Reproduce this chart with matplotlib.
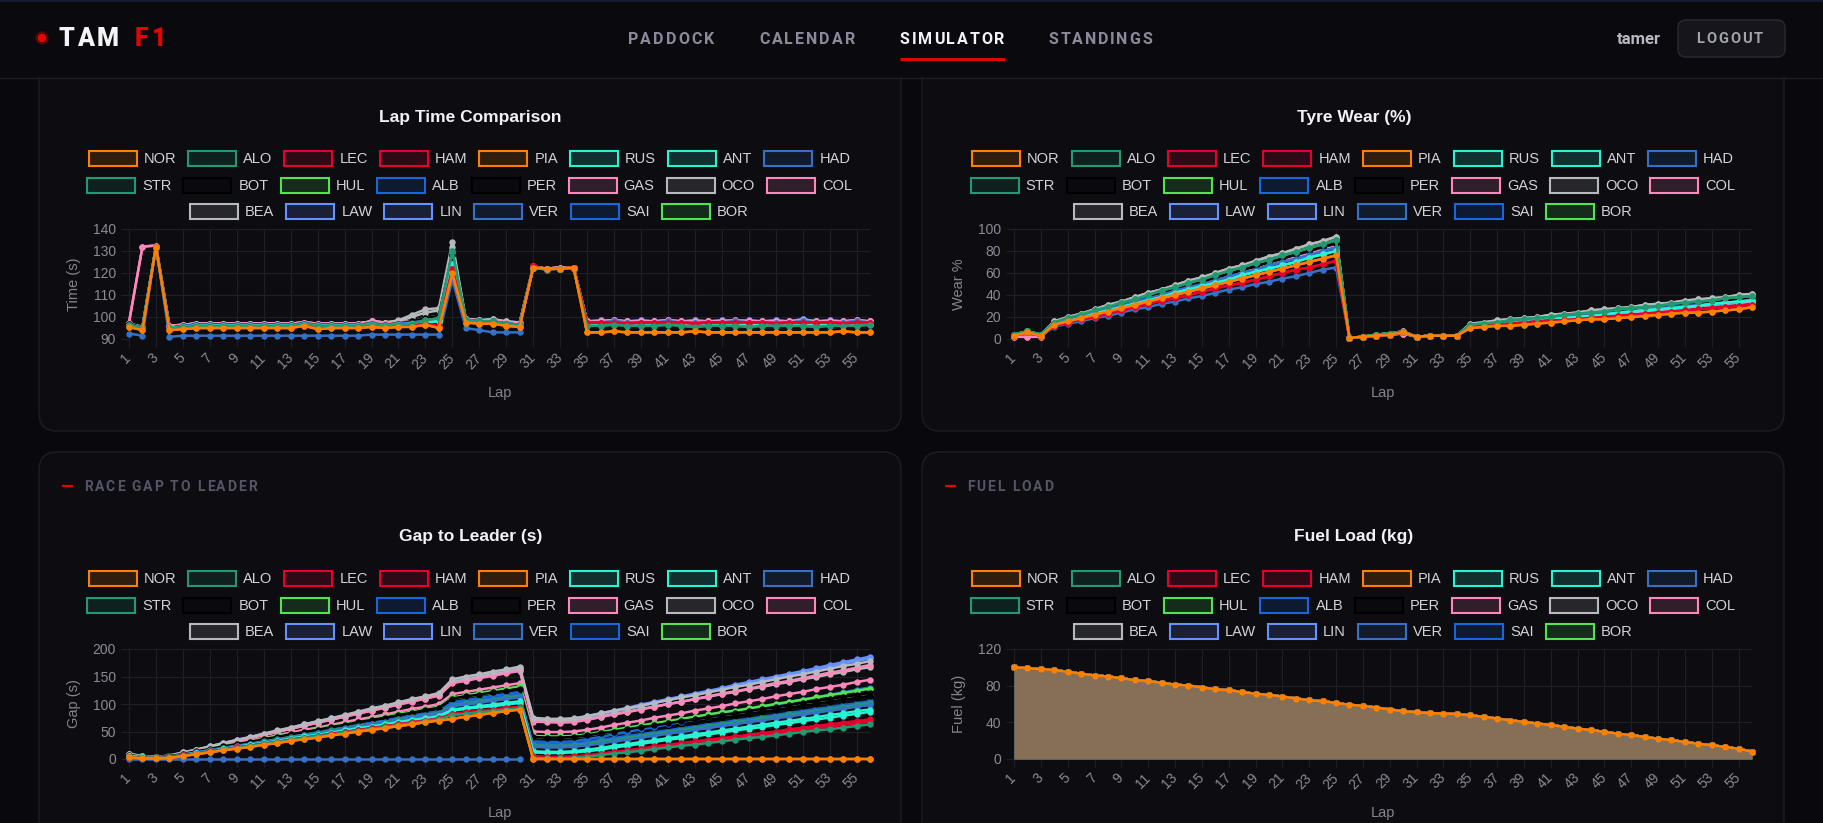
import matplotlib
matplotlib.use("Agg")
import numpy as np
import matplotlib.pyplot as plt
from matplotlib.patches import FancyBboxPatch, Rectangle
from matplotlib.colors import to_rgb

nan = float("nan")

# ---------------------------------------------------------------
# data
# ---------------------------------------------------------------
LAPS = list(range(1, 57))
TICK_LAPS = list(range(1, 57, 2))

DRIVERS = ["NOR", "ALO", "LEC", "HAM", "PIA", "RUS", "ANT", "HAD",
           "STR", "BOT", "HUL", "ALB", "PER", "GAS", "OCO", "COL",
           "BEA", "LAW", "LIN", "VER", "SAI", "BOR"]
DRIVER_COLORS = ["#FF8000", "#229971", "#E8002D", "#E8002D", "#FF8000", "#27F4D2", "#27F4D2", "#3671C6",
                 "#229971", "#000000", "#52E252", "#1868DB", "#000000", "#FF87BC", "#B6BABD", "#FF87BC",
                 "#B6BABD", "#6692FF", "#6692FF", "#3671C6", "#1868DB", "#52E252"]
LEGEND_ROWS = [DRIVERS[0:8], DRIVERS[8:16], DRIVERS[16:22]]

# lap times (s)
LT_ORANGE = [95.5, 94, 132,
             94, 94.5, 95, 95, 95, 95, 95, 95, 95, 95, 96, 94.5, 95, 95, 95, 95.5, 95,
             95.5, 95.5, 96.5, 95,
             120,
             97.5, 97, 97, 96, 95.5,
             122.5, 122, 122, 122.5,
             93, 93, 93.5, 93, 93, 93, 93, 93, 93.5, 93, 93, 93, 93, 93, 93, 93, 93, 93, 93, 93.5, 93, 93]
LT_VER = [92.5, 91.5, 132,
          91, 91.5, 91.5, 91.5, 91.5, 91.5, 91.5, 91.5, 91.5, 91.5, 91.5, 91.5, 91.5, 91.5, 91.5, 92, 92,
          92, 92, 92, 92,
          117,
          95, 94, 93, 93, 93,
          nan, nan, nan, nan, nan, nan, nan, nan, nan, nan, nan, nan, nan,
          nan, nan, nan, nan, nan, nan, nan, nan, nan, nan, nan, nan, nan]
LT_PINK = [97.5, 132, 132.5,
           96, 96.5, 97, 97, 97, 97, 97, 97, 97, 97, 97.5, 97, 97, 97, 97, 98, 97.5,
           97.5, 98, 98.5, 99,
           127,
           99, 98.5, 98.5, 97.5, 97,
           123, 122, 122.5, 122.5,
           98, 98, 98.5, 98, 98, 98, 98.5, 98, 98, 98, 98, 98.5, 98, 98, 98, 98, 98.5, 98, 98, 98, 98.5, 98]
LT_OCO = [97, 95.5, 132,
          95.5, 96.5, 97, 97, 97, 97, 97, 97, 97, 97, 97.5, 97, 97, 97, 97, 98, 97.5,
          98.5, 101, 103.5, 104,
          134,
          99, 98.5, 99, 98, 97.5,
          122.5, 122, 122.5, 122.5,
          97.5, 98, 98, 97.5, 98, 97.5, 98, 97.5, 97.5, 98, 97.5, 98, 97.5, 97.5, 98, 97.5, 98, 97.5, 98, 97.5, 98, 97.5]
LT_BEA = [97, 95.5, 132,
          95.5, 96.5, 97, 97, 97, 97, 97, 97, 97, 97, 97.5, 97, 97, 97, 97, 98, 97.5,
          98, 100, 102, 103,
          132,
          99, 98.5, 99, 98, 97.5,
          122.5, 122, 122.5, 122.5,
          98, 97.5, 98, 98, 97.5, 98, 97.5, 98, 98, 97.5, 98, 97.5, 98, 98, 97.5, 98, 97.5, 98, 97.5, 98, 97.5, 98]
LT_LAV = [96.5, 95, 132,
          95.5, 96.5, 97, 97, 97, 97, 97, 97, 97, 97, 97.5, 97, 97, 97, 97, 98, 97.5,
          97.5, 98, 99, 100,
          126,
          99, 98.5, 98.5, 97.5, 97,
          122.5, 122, 122, 122.5,
          98, 98.5, 98.5, 98, 98.5, 98, 98.5, 98, 98.5, 98, 98.5, 98, 98.5, 98, 98.5, 98, 99, 98, 98.5, 98, 98.5, 98]
LT_GREEN = [96.5, 95, 132,
            95, 95.5, 96, 96, 96, 96, 96, 96, 96, 96, 96.5, 96, 96, 96, 96, 96.5, 96,
            96.5, 97, 98.5, 99.5,
            130,
            98.5, 98, 98, 97, 96.5,
            122.5, 121.5, 122, 122,
            96, 96, 96.5, 96, 96, 96, 96.5, 96, 95.5, 96, 96, 96, 95.5, 96, 96, 96, 96, 95.5, 96, 96, 96, 96.5]
LT_MID = [97, 95, 132,
          95, 96, 96.5, 96.5, 96.5, 96.5, 96.5, 96.5, 96.5, 96.5, 97, 96.5, 96.5, 96.5, 96.5, 97, 96.5,
          97, 98, 99.5, 100.5,
          128,
          98.5, 98, 98, 97, 96.5,
          122.5, 122, 122, 122.5,
          97, 97, 97.5, 97, 97, 97, 97.5, 97, 97, 97, 97, 97.5, 97, 97, 97, 97, 97.5, 97, 97, 97, 97.5, 97]
LT_TEAL = [96, 95, 132,
           95, 95.5, 96, 96, 96, 96, 96, 96, 96, 96, 96.5, 96, 96, 96, 96, 96.5, 96,
           96.5, 97, 97.5, 98,
           124,
           98, 97.5, 97.5, 96.5, 96,
           122.5, 122, 122, 122.5,
           97, 97, 97, 96.5, 97, 97, 97, 96.5, 97, 97, 97, 97, 96.5, 97, 97, 97, 97, 96.5, 97, 97, 97, 97]
LT_RED = [96, 94.5, 132,
          94.5, 95, 95.5, 95.5, 95.5, 95.5, 95.5, 95.5, 95.5, 95.5, 96, 95.5, 95.5, 95.5, 95.5, 96, 95.5,
          96, 96, 97, 96,
          122,
          98, 97.5, 97.5, 96.5, 96,
          123, 121.5, 122, 122.5,
          97.5, 97.5, 97.5, 97, 97.5, 97.5, 97.5, 97.5, 97, 97.5, 97.5, 97.5, 97.5, 97.5, 97, 97.5, 97.5, 97.5, 97.5, 97, 97.5, 97.5]
LT_BLUE = [96.5, 95, 132,
           95, 96, 96.5, 96.5, 96.5, 96.5, 96.5, 96.5, 96.5, 96.5, 97, 96.5, 96.5, 96.5, 96.5, 97, 96.5,
           97, 97.5, 98.5, 99,
           123,
           98.5, 98, 98, 97, 96.5,
           122.5, 122, 122, 122.5,
           97.5, 97.5, 98, 97.5, 97.5, 97.5, 98, 97.5, 97.5, 97.5, 97.5, 98, 97.5, 97.5, 97.5, 97.5, 98, 97.5, 97.5, 97.5, 98, 97.5]

LAP_TIME = {"NOR": LT_ORANGE, "ALO": LT_GREEN, "LEC": LT_RED, "HAM": LT_RED, "PIA": LT_ORANGE,
            "RUS": LT_TEAL, "ANT": LT_TEAL, "HAD": LT_BLUE, "STR": LT_GREEN, "BOT": LT_MID,
            "HUL": LT_MID, "ALB": LT_BLUE, "PER": LT_MID, "GAS": LT_PINK, "OCO": LT_OCO,
            "COL": LT_PINK, "BEA": LT_BEA, "LAW": LT_LAV, "LIN": LT_LAV, "VER": LT_VER,
            "SAI": LT_BLUE, "BOR": LT_MID}

# tyre wear (%)
W_GREY = [4, 7, 4,
          16, 20, 23, 27, 31, 34, 38, 42, 45, 49, 53, 56, 60, 64, 67, 71, 75, 78, 82, 86, 89, 93,
          1, 2, 4, 5, 7, 2, 3, 3, 3,
          14, 15, 17, 18, 19, 20, 22, 23, 24, 26, 27, 28, 29, 31, 32, 33, 35, 36, 37, 38, 40, 41]
W_GREEN = [4, 7, 4,
           15, 19, 22, 26, 29, 33, 36, 40, 44, 47, 51, 54, 58, 62, 65, 69, 72, 76, 79, 83, 86, 90,
           1, 2, 4, 5, 6, 2, 3, 3, 3,
           13, 14, 15, 17, 18, 19, 20, 22, 23, 24, 25, 27, 28, 29, 30, 32, 33, 34, 35, 37, 38, 39]
W_BLACK = [4, 6, 3,
           14, 17, 21, 24, 28, 31, 35, 38, 42, 45, 49, 52, 56, 59, 63, 66, 70, 73, 77, 80, 84, 87,
           1, 2, 3, 5, 6, 2, 3, 3, 3,
           12, 13, 14, 16, 17, 18, 19, 20, 22, 23, 24, 25, 26, 27, 29, 30, 31, 32, 33, 35, 36, 37]
W_BLUE = [3, 6, 3,
          14, 17, 21, 24, 27, 30, 34, 37, 40, 44, 47, 50, 53, 57, 60, 63, 67, 70, 73, 76, 80, 83,
          1, 2, 3, 4, 6, 2, 3, 3, 3,
          12, 13, 14, 15, 16, 18, 19, 20, 21, 22, 23, 24, 25, 27, 28, 29, 30, 31, 32, 33, 34, 36]
W_TEAL = [3, 6, 3,
          13, 16, 19, 23, 26, 29, 32, 35, 38, 42, 45, 48, 51, 54, 58, 61, 64, 67, 70, 74, 77, 80,
          1, 2, 3, 4, 6, 2, 3, 3, 3,
          11, 12, 13, 14, 16, 17, 18, 19, 20, 21, 22, 24, 25, 26, 27, 28, 29, 30, 32, 33, 34, 35]
W_PINK = [2, 2, 2,
          13, 16, 20, 23, 27, 30, 33, 37, 40, 43, 47, 50, 54, 57, 60, 64, 67, 71, 74, 77, 81, 84,
          1, 2, 3, 4, 5, 2, 3, 3, 3,
          11, 12, 13, 14, 15, 16, 17, 19, 20, 21, 22, 23, 24, 25, 26, 27, 28, 30, 31, 32, 33, 34]
W_ORANGE = [3, 6, 3,
            13, 16, 19, 22, 25, 28, 31, 34, 37, 40, 43, 46, 49, 52, 55, 58, 61, 64, 67, 70, 73, 76,
            1, 2, 3, 4, 6, 2, 3, 3, 3,
            10, 11, 12, 12, 13, 14, 15, 16, 17, 18, 18, 19, 20, 21, 22, 23, 24, 24, 25, 26, 27, 29]
W_RED = [3, 6, 3,
         12, 15, 18, 20, 23, 26, 29, 32, 35, 37, 40, 43, 46, 49, 51, 54, 57, 60, 63, 65, 68, 71,
         1, 2, 3, 4, 6, 2, 3, 3, 3,
         11, 12, 13, 14, 15, 16, 17, 17, 18, 19, 20, 21, 22, 23, 24, 25, 26, 27, 28, 29, 30, 31]
W_VER = [3, 6, 3,
         11, 14, 16, 19, 21, 24, 27, 29, 32, 34, 37, 39, 42, 45, 47, 50, 52, 55, 57, 60, 63, 65,
         1, 2, 3, 4, 5, nan, nan, nan, nan,
         nan, nan, nan, nan, nan, nan, nan, nan, nan, nan, nan,
         nan, nan, nan, nan, nan, nan, nan, nan, nan, nan, nan]

TYRE_WEAR = {"NOR": W_ORANGE, "ALO": W_GREEN, "LEC": W_RED, "HAM": W_RED, "PIA": W_ORANGE,
             "RUS": W_TEAL, "ANT": W_TEAL, "HAD": W_BLUE, "STR": W_GREEN, "BOT": W_BLACK,
             "HUL": W_GREEN, "ALB": W_BLUE, "PER": W_BLACK, "GAS": W_PINK, "OCO": W_GREY,
             "COL": W_PINK, "BEA": W_GREY, "LAW": W_BLACK, "LIN": W_BLACK, "VER": W_VER,
             "SAI": W_BLUE, "BOR": W_GREEN}

# gap to leader (s)
G_NOR = [3, 1, 1,
         2, 5, 9, 12, 16, 19, 22, 26, 29, 33, 36, 39, 43, 46, 50, 53, 56, 60, 63, 67, 70,
         73, 77, 80, 84, 87, 90,
         0, 0, 0, 0,
         0, 0, 0, 0, 0, 0, 0, 0, 0, 0, 0, 0, 0, 0, 0, 0, 0, 0, 0, 0, 0, 0]
G_VER = [0, 0, 0, 0, 0, 0, 0, 0, 0, 0, 0, 0, 0, 0, 0,
         0, 0, 0, 0, 0, 0, 0, 0, 0, 0, 0, 0, 0, 0, 0,
         nan, nan, nan, nan, nan, nan, nan, nan, nan, nan, nan, nan, nan,
         nan, nan, nan, nan, nan, nan, nan, nan, nan, nan, nan, nan, nan]
G_OCO = [10, 5, 4,
         6, 12, 17, 23, 29, 35, 40, 46, 52, 57, 63, 69, 74, 80, 86, 92, 97, 103, 109, 114, 120,
         145, 150, 154, 159, 163, 168,
         75, 73, 73, 74,
         78, 83, 88, 92, 97, 102, 107, 112, 116, 121, 126, 131, 135, 140, 145, 150, 154, 159, 164, 169, 173, 178]
G_BEA = [9, 4, 3,
         5, 11, 16, 22, 27, 33, 38, 44, 49, 55, 61, 66, 72, 77, 83, 88, 94, 99, 105, 110, 116,
         140, 144, 149, 154, 158, 163,
         71, 69, 69, 70,
         73, 77, 82, 86, 91, 95, 100, 104, 109, 113, 118, 122, 127, 131, 136, 140, 145, 149, 154, 158, 163, 167]
G_LAW = [9, 5, 4,
         6, 12, 17, 23, 29, 34, 40, 46, 51, 57, 63, 68, 74, 79, 85, 91, 96, 102, 108, 113, 119,
         142, 147, 151, 156, 160, 165,
         74, 72, 72, 73,
         78, 83, 88, 93, 99, 104, 109, 114, 119, 124, 129, 135, 140, 145, 150, 155, 160, 165, 171, 176, 181, 186]
G_LIN = [8, 5, 4,
         5, 11, 16, 22, 27, 33, 39, 44, 50, 55, 61, 67, 72, 78, 83, 89, 95, 100, 106, 111, 117,
         140, 145, 149, 154, 158, 162,
         71, 70, 70, 71,
         76, 81, 86, 91, 96, 102, 107, 112, 117, 122, 127, 132, 137, 142, 147, 153, 158, 163, 168, 173, 178, 183]
G_COL = [8, 4, 3,
         5, 11, 16, 22, 27, 33, 38, 44, 49, 55, 60, 66, 71, 77, 82, 88, 93, 99, 104, 110, 115,
         138, 142, 147, 151, 156, 160,
         68, 67, 66, 67,
         71, 76, 81, 85, 90, 95, 100, 104, 109, 114, 119, 123, 128, 133, 138, 142, 147, 152, 157, 161, 166, 171]
G_GAS = [7, 4, 3,
         5, 10, 15, 19, 24, 29, 34, 38, 43, 48, 53, 57, 62, 67, 72, 76, 81, 86, 91, 95, 100,
         118, 122, 126, 130, 134, 138,
         50, 49, 49, 50,
         53, 57, 62, 66, 70, 75, 79, 83, 88, 92, 96, 101, 105, 109, 114, 118, 122, 127, 131, 135, 140, 144]
G_HUL = [7, 4, 3,
         5, 10, 14, 19, 23, 28, 32, 37, 41, 46, 50, 55, 59, 64, 68, 73, 77, 82, 86, 91, 95,
         112, 116, 120, 124, 128, 132,
         42, 41, 41, 42,
         45, 49, 53, 57, 61, 65, 69, 73, 77, 81, 85, 88, 92, 96, 100, 104, 108, 112, 116, 120, 124, 128]
G_BOR = [6, 4, 3,
         4, 8, 13, 17, 21, 26, 30, 34, 38, 43, 47, 51, 56, 60, 64, 69, 73, 77, 81, 86, 90,
         106, 110, 114, 117, 121, 125,
         36, 35, 35, 36,
         39, 43, 47, 50, 54, 58, 62, 65, 69, 73, 77, 80, 84, 88, 92, 95, 99, 103, 107, 110, 114, 118]
G_BOT = [7, 4, 3,
         5, 9, 14, 18, 23, 27, 31, 36, 40, 45, 49, 53, 58, 62, 67, 71, 75, 80, 84, 89, 93,
         110, 114, 117, 121, 124, 128,
         40, 39, 39, 40,
         43, 47, 50, 54, 58, 61, 65, 69, 72, 76, 80, 83, 87, 91, 94, 98, 102, 105, 109, 113, 116, 120]
G_PER = [6, 4, 3,
         4, 8, 13, 17, 21, 25, 30, 34, 38, 42, 47, 51, 55, 59, 64, 68, 72, 76, 81, 85, 89,
         105, 109, 112, 116, 120, 124,
         35, 34, 34, 35,
         38, 42, 45, 49, 53, 56, 60, 64, 67, 71, 75, 78, 82, 86, 89, 93, 97, 100, 104, 108, 111, 115]
G_ALB = [6, 4, 3,
         4, 8, 12, 16, 21, 25, 29, 33, 37, 41, 46, 50, 54, 58, 62, 66, 70, 75, 79, 83, 87,
         103, 107, 111, 115, 118, 122,
         32, 31, 31, 32,
         36, 40, 45, 49, 54, 58, 63, 67, 72, 76, 81, 85, 90, 94, 99, 103, 108, 112, 117, 121, 126, 130]
G_SAI = [6, 3, 3,
         4, 8, 12, 16, 20, 24, 28, 32, 36, 40, 45, 49, 53, 57, 61, 65, 69, 73, 77, 81, 85,
         100, 104, 107, 111, 114, 118,
         28, 27, 27, 28,
         31, 35, 38, 42, 45, 49, 52, 56, 59, 63, 66, 70, 73, 77, 80, 84, 87, 91, 94, 98, 101, 105]
G_STR = [6, 3, 3,
         4, 8, 12, 16, 20, 24, 28, 32, 36, 40, 44, 48, 52, 56, 60, 64, 68, 72, 76, 80, 84,
         98, 101, 105, 108, 112, 115,
         25, 24, 24, 25,
         28, 32, 35, 39, 42, 46, 49, 53, 56, 60, 63, 67, 70, 74, 77, 81, 84, 88, 91, 95, 98, 102]
G_HAD = [5, 3, 2,
         4, 8, 12, 16, 20, 24, 27, 31, 35, 39, 43, 47, 51, 55, 59, 63, 66, 70, 74, 78, 82,
         96, 99, 102, 106, 109, 112,
         22, 21, 21, 22,
         25, 28, 32, 35, 39, 42, 46, 49, 53, 56, 60, 63, 67, 70, 74, 77, 81, 84, 88, 91, 95, 98]
G_RUS = [5, 3, 2,
         3, 7, 11, 14, 18, 22, 26, 29, 33, 37, 41, 44, 48, 52, 56, 59, 63, 67, 71, 74, 78,
         90, 93, 96, 99, 102, 105,
         14, 13, 13, 14,
         17, 20, 24, 27, 31, 34, 38, 41, 45, 48, 52, 55, 59, 62, 66, 69, 73, 76, 80, 83, 87, 90]
G_ANT = [5, 3, 2,
         3, 7, 10, 14, 18, 21, 25, 29, 32, 36, 40, 43, 47, 50, 54, 58, 61, 65, 69, 72, 76,
         88, 91, 94, 96, 99, 102,
         12, 11, 11, 12,
         14, 17, 21, 24, 28, 31, 35, 38, 41, 45, 48, 52, 55, 58, 62, 65, 69, 72, 75, 79, 82, 86]
G_LEC = [4, 2, 2,
         3, 7, 10, 14, 17, 21, 24, 28, 31, 35, 39, 42, 46, 49, 53, 56, 60, 63, 67, 70, 74,
         82, 85, 88, 90, 93, 95,
         5, 4, 4, 5,
         7, 10, 13, 16, 19, 23, 26, 29, 32, 35, 38, 41, 44, 47, 50, 54, 57, 60, 63, 66, 69, 72]
G_HAM = [4, 2, 2,
         3, 7, 10, 14, 17, 21, 24, 28, 31, 35, 38, 42, 45, 49, 52, 56, 59, 63, 66, 70, 73,
         81, 83, 86, 88, 91, 93,
         4, 3, 3, 4,
         6, 9, 12, 15, 18, 21, 24, 27, 30, 33, 35, 38, 41, 44, 47, 50, 53, 56, 59, 62, 65, 68]
G_ALO = [4, 2, 2,
         3, 6, 10, 13, 17, 20, 24, 27, 31, 34, 38, 41, 44, 48, 51, 55, 58, 62, 65, 69, 72,
         80, 82, 85, 87, 90, 92,
         2, 1, 1, 2,
         4, 7, 10, 12, 15, 18, 21, 24, 26, 29, 32, 35, 38, 40, 43, 46, 49, 52, 54, 57, 60, 63]

GAP = {"NOR": G_NOR, "ALO": G_ALO, "LEC": G_LEC, "HAM": G_HAM, "PIA": G_NOR,
       "RUS": G_RUS, "ANT": G_ANT, "HAD": G_HAD, "STR": G_STR, "BOT": G_BOT,
       "HUL": G_HUL, "ALB": G_ALB, "PER": G_PER, "GAS": G_GAS, "OCO": G_OCO,
       "COL": G_COL, "BEA": G_BEA, "LAW": G_LAW, "LIN": G_LIN, "VER": G_VER,
       "SAI": G_SAI, "BOR": G_BOR}

# fuel load (kg) - every car carries the same curve
FUEL = [100, 99, 98, 97, 95, 93, 91, 90, 88, 86, 85, 83, 81, 80, 78,
        76, 75, 73, 71, 70, 68, 66, 64, 63, 61, 59, 58, 56, 54, 52,
        51, 50, 49.5, 49,
        47.5, 46, 44, 42, 40.5, 38.5, 37, 35, 33, 31.5, 29.5, 27.5, 26, 24, 22, 20.5, 18.5, 16.5, 15, 13, 11, 8]
FUEL_LOAD = {d: FUEL for d in DRIVERS}

COLORS = dict(zip(DRIVERS, DRIVER_COLORS))

# ---------------------------------------------------------------
# page / layout (pixel coordinates, origin top-left)
# ---------------------------------------------------------------
W, H = 1824, 823
PAGE = "#09090d"
CARD = "#0c0c11"
CARD_EDGE = "#1d1d25"
GRID = "#1f1f28"
TICK = "#8b8b95"
RED = "#e10600"
CHART_FONT = "Liberation Sans"
UI_FONT = "Roboto"

fig = plt.figure(figsize=(W / 100, H / 100), dpi=100, facecolor=PAGE)
bg = fig.add_axes([0, 0, 1, 1])
bg.set_xlim(0, W)
bg.set_ylim(H, 0)
bg.axis("off")
renderer = fig.canvas.get_renderer()


def text_width(s, **kw):
    t = bg.text(0, 0, s, **kw)
    w = t.get_window_extent(renderer).width
    t.remove()
    return w


def spaced_text(x, y, s, width, **kw):
    # letter-spaced caps, stretched to the measured width
    space = text_width("i i", **kw) - text_width("ii", **kw)
    ws = [space if ch == " " else text_width(ch, **kw) for ch in s]
    gap = (width - sum(ws)) / (len(s) - 1)
    for ch, w in zip(s, ws):
        if ch != " ":
            bg.text(x, y, ch, ha="left", va="center", **kw)
        x += w + gap


def blend(c, a):
    c, b = np.array(to_rgb(c)), np.array(to_rgb(CARD))
    return tuple(b + (c - b) * a)


def card(l, t, r, b):
    bg.add_patch(FancyBboxPatch((l, t), r - l, b - t, boxstyle="round,pad=0,rounding_size=18",
                                fc=CARD, ec=CARD_EDGE, lw=1, zorder=1))


def legend(cx, y0):
    font = dict(fontsize=10.5, color="#d2d2d9", family=CHART_FONT)
    for row, y in zip(LEGEND_ROWS, [y0, y0 + 26.5, y0 + 52.5]):
        ws = [text_width(n, **font) for n in row]
        total = sum(55 + w + 12 for w in ws) - 12
        x = cx - total / 2
        for n, w in zip(row, ws):
            c = COLORS[n]
            bg.add_patch(Rectangle((x, y - 7.5), 48, 15, fc=blend(c, 0.15), ec=c, lw=1.5, zorder=3))
            bg.text(x + 55, y + 0.5, n, ha="left", va="center", zorder=3, **font)
            x += 55 + w + 12


def line_chart(box, data, ylim, yticks, title, ylabel, fill=False):
    l, t, r, b = box
    ax = fig.add_axes([l / W, 1 - b / H, (r - l) / W, (b - t) / H])
    ax.set_facecolor("none")
    n = len(DRIVERS)
    for i, d in enumerate(DRIVERS):
        c = COLORS[d]
        y = np.array(data[d], dtype=float)
        if fill:
            # first dataset sits on top, like chart.js
            ax.fill_between(LAPS, y, 0, color=c, alpha=0.15, lw=0, zorder=2 + (n - i) / 100)
        ax.plot(LAPS, y, color=c, lw=1.8, marker="o", ms=3.6, mfc=c, mec=c,
                zorder=10 + n - i, clip_on=False)
    ax.set_xlim(1, 56)
    ax.set_ylim(*ylim)
    ax.set_yticks(yticks)
    ax.set_yticklabels([str(v) for v in yticks], family=CHART_FONT)
    ax.set_xticks(TICK_LAPS)
    ax.set_xticklabels([str(v) for v in TICK_LAPS], rotation=45, ha="right", va="center",
                       rotation_mode="anchor", family=CHART_FONT)
    ax.grid(True, color=GRID, lw=0.8, zorder=0)
    for s in ax.spines.values():
        s.set_visible(False)
    ax.tick_params(color=GRID, labelcolor=TICK, length=6, width=0.8, labelsize=10)
    ax.tick_params(axis="y", pad=3.5)
    ax.tick_params(axis="x", pad=6)

    cx_card = (l - 90 + r + 32) / 2
    bg.text(cx_card, t - 112, title, ha="center", va="center", fontsize=12.5,
            fontweight="bold", color="#f2f2f5", family=CHART_FONT)
    legend(cx_card - 1, t - 70.5)
    bg.text(l - 55, (t + b) / 2, ylabel, rotation=90, ha="center", va="center",
            fontsize=10.5, color="#85858f", family=CHART_FONT)
    bg.text((l + r) / 2, b + 54, "Lap", ha="center", va="center",
            fontsize=10.5, color="#85858f", family=CHART_FONT)
    return ax


# cards
card(39, -40, 901, 431)
card(922, -40, 1784, 431)
card(39, 452, 901, 900)
card(922, 452, 1784, 900)

# header bar
bg.add_patch(Rectangle((0, 0), W, 77, fc="#0a0a0e", ec="none", zorder=20))
bg.add_patch(Rectangle((0, 0), W, 2, fc="#121a30", ec="none", zorder=21))
bg.plot([0, W], [77.5, 77.5], color="#1d1d24", lw=1, zorder=21)
bg.add_patch(plt.Circle((42, 38), 6, color=RED, alpha=0.25, zorder=22))
bg.add_patch(plt.Circle((42, 38), 3.6, color=RED, zorder=22))
spaced_text(59, 39, "TAM", 60, fontsize=18, fontweight="black", color="#f4f4f6", family=UI_FONT, zorder=22)
spaced_text(135, 39, "F1", 31, fontsize=18, fontweight="black", color=RED, family=UI_FONT, zorder=22)
nav = [("PADDOCK", 628, 86), ("CALENDAR", 759, 96), ("SIMULATOR", 900, 104), ("STANDINGS", 1049, 103)]
for label, x, w in nav:
    col = "#f4f4f6" if label == "SIMULATOR" else "#8a8a99"
    spaced_text(x, 39, label, w, fontsize=11.5, fontweight="bold", color=col, family=UI_FONT, zorder=22)
bg.plot([900, 1005], [59, 59], color=RED, lw=2.2, solid_capstyle="butt", zorder=22)
bg.text(1639, 39, "tamer", ha="center", va="center", fontsize=12, fontweight="bold",
        color="#b8b8c2", family=UI_FONT, zorder=22)
bg.add_patch(FancyBboxPatch((1678, 20), 107, 37, boxstyle="round,pad=0,rounding_size=8",
                            fc="#15151b", ec="#2a2a33", lw=1, zorder=22))
spaced_text(1696, 39, "LOGOUT", 67, fontsize=10.5, fontweight="bold", color="#a4a4af", family=UI_FONT, zorder=23)

# section labels on the lower cards
for x0, label, w in [(62, "RACE GAP TO LEADER", 173), (945, "FUEL LOAD", 86)]:
    bg.plot([x0, x0 + 11], [486, 486], color=RED, lw=1.6, solid_capstyle="butt", zorder=3)
    spaced_text(x0 + 22, 486.5, label, w, fontsize=10, fontweight="bold", color="#555566",
                family=UI_FONT, zorder=3)

# the four charts
line_chart((129, 229, 870, 339), LAP_TIME, (90, 140), [90, 100, 110, 120, 130, 140],
           "Lap Time Comparison", "Time (s)")
line_chart((1014, 229, 1752, 339), TYRE_WEAR, (0, 100), [0, 20, 40, 60, 80, 100],
           "Tyre Wear (%)", "Wear %")
line_chart((129, 649, 870, 759), GAP, (0, 200), [0, 50, 100, 150, 200],
           "Gap to Leader (s)", "Gap (s)")
line_chart((1014, 649, 1752, 759), FUEL_LOAD, (0, 120), [0, 40, 80, 120],
           "Fuel Load (kg)", "Fuel (kg)", fill=True)

fig.savefig("out.png", dpi=100, facecolor=PAGE)
